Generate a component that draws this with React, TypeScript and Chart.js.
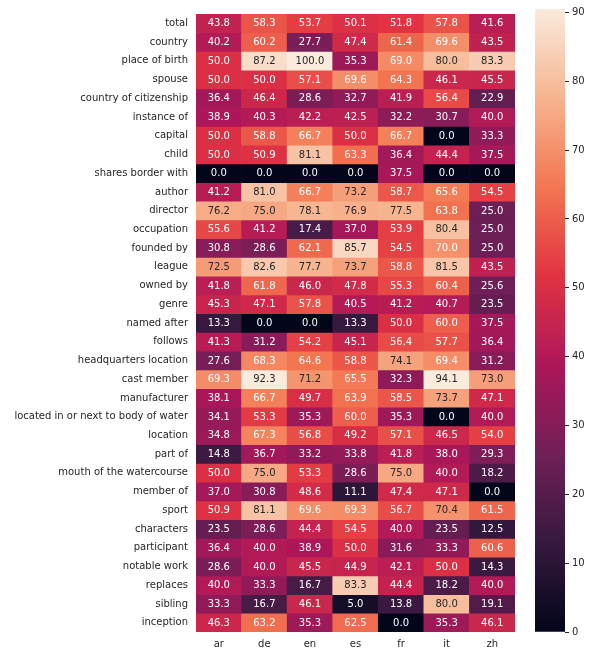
import React, { useEffect, useRef } from "react";
import { Chart, registerables } from "chart.js";

Chart.register(...registerables);

const rows = [
  "total", "country", "place of birth", "spouse", "country of citizenship", "instance of",
  "capital", "child", "shares border with", "author", "director", "occupation", "founded by",
  "league", "owned by", "genre", "named after", "follows", "headquarters location",
  "cast member", "manufacturer", "located in or next to body of water", "location", "part of",
  "mouth of the watercourse", "member of", "sport", "characters", "participant",
  "notable work", "replaces", "sibling", "inception",
];

const languages = ["ar", "de", "en", "es", "fr", "it", "zh"];

const ar = [43.8, 40.2, 50.0, 50.0, 36.4, 38.9, 50.0, 50.0, 0.0, 41.2, 76.2, 55.6, 30.8, 72.5, 41.8, 45.3, 13.3, 41.3, 27.6, 69.3, 38.1, 34.1, 34.8, 14.8, 50.0, 37.0, 50.9, 23.5, 36.4, 28.6, 40.0, 33.3, 46.3];
const de = [58.3, 60.2, 87.2, 50.0, 46.4, 40.3, 58.8, 50.9, 0.0, 81.0, 75.0, 41.2, 28.6, 82.6, 61.8, 47.1, 0.0, 31.2, 68.3, 92.3, 66.7, 53.3, 67.3, 36.7, 75.0, 30.8, 81.1, 28.6, 40.0, 40.0, 33.3, 16.7, 63.2];
const en = [53.7, 27.7, 100.0, 57.1, 28.6, 42.2, 66.7, 81.1, 0.0, 66.7, 78.1, 17.4, 62.1, 77.7, 46.0, 57.8, 0.0, 54.2, 64.6, 71.2, 49.7, 35.3, 56.8, 33.2, 53.3, 48.6, 69.6, 44.4, 38.9, 45.5, 16.7, 46.1, 35.3];
const es = [50.1, 47.4, 35.3, 69.6, 32.7, 42.5, 50.0, 63.3, 0.0, 73.2, 76.9, 37.0, 85.7, 73.7, 47.8, 40.5, 13.3, 45.1, 58.8, 65.5, 63.9, 60.0, 49.2, 33.8, 28.6, 11.1, 69.3, 54.5, 50.0, 44.9, 83.3, 5.0, 62.5];
const fr = [51.8, 61.4, 69.0, 64.3, 41.9, 32.2, 66.7, 36.4, 37.5, 58.7, 77.5, 53.9, 54.5, 58.8, 55.3, 41.2, 50.0, 56.4, 74.1, 32.3, 58.5, 35.3, 57.1, 41.8, 75.0, 47.4, 56.7, 40.0, 31.6, 42.1, 44.4, 13.8, 0.0];
const it = [57.8, 69.6, 80.0, 46.1, 56.4, 30.7, 0.0, 44.4, 0.0, 65.6, 63.8, 80.4, 70.0, 81.5, 60.4, 40.7, 60.0, 57.7, 69.4, 94.1, 73.7, 0.0, 46.5, 38.0, 40.0, 47.1, 70.4, 23.5, 33.3, 50.0, 18.2, 80.0, 35.3];
const zh = [41.6, 43.5, 83.3, 45.5, 22.9, 40.0, 33.3, 37.5, 0.0, 54.5, 25.0, 25.0, 25.0, 43.5, 25.6, 23.5, 37.5, 36.4, 31.2, 73.0, 47.1, 40.0, 54.0, 29.3, 18.2, 0.0, 61.5, 12.5, 60.6, 14.3, 40.0, 19.1, 46.1];

const columns = [ar, de, en, es, fr, it, zh];

const colorbarTicks = [0, 10, 20, 30, 40, 50, 60, 70, 80, 90];

const VMIN = 0;
const VMAX = 90.5;

// approximate seaborn "rocket" colormap
const ROCKET: [number, number[]][] = [
  [0, [3, 5, 26]],
  [1 / 7, [53, 25, 62]],
  [2 / 7, [112, 31, 87]],
  [3 / 7, [173, 23, 89]],
  [4 / 7, [225, 51, 66]],
  [5 / 7, [243, 118, 81]],
  [6 / 7, [246, 180, 143]],
  [1, [250, 235, 221]],
];

function rocketRGB(t: number): number[] {
  const x = Math.max(0, Math.min(1, t));
  for (let i = 1; i < ROCKET.length; i++) {
    const [t1, c1] = ROCKET[i];
    const [t0, c0] = ROCKET[i - 1];
    if (x <= t1) {
      const f = (x - t0) / (t1 - t0);
      return c0.map((v, k) => v + (c1[k] - v) * f);
    }
  }
  return ROCKET[ROCKET.length - 1][1];
}

function colorFor(v: number): string {
  const c = rocketRGB((v - VMIN) / (VMAX - VMIN));
  return `rgb(${Math.round(c[0])},${Math.round(c[1])},${Math.round(c[2])})`;
}

function textColorFor(v: number): string {
  const c = rocketRGB((v - VMIN) / (VMAX - VMIN)).map((x) => {
    const s = x / 255;
    return s <= 0.03928 ? s / 12.92 : Math.pow((s + 0.055) / 1.055, 2.4);
  });
  const lum = 0.2126 * c[0] + 0.7152 * c[1] + 0.0722 * c[2];
  return lum > 0.408 ? "#262626" : "#ffffff";
}

const FONT = "'DejaVu Sans', sans-serif";
const TEXT = "#262626";

export default function App() {
  const mainRef = useRef<HTMLCanvasElement>(null);
  const barRef = useRef<HTMLCanvasElement>(null);

  useEffect(() => {
    const annotate = {
      id: "annotate",
      afterDatasetsDraw(chart: any) {
        const ctx = chart.ctx;
        const xs = chart.scales.x;
        const ys = chart.scales.y;
        ctx.save();
        ctx.font = `10px ${FONT}`;
        ctx.textAlign = "center";
        ctx.textBaseline = "middle";
        rows.forEach((_, r) => {
          columns.forEach((col, c) => {
            const v = col[r];
            ctx.fillStyle = textColorFor(v);
            ctx.fillText(v.toFixed(1), xs.getPixelForValue(c), ys.getPixelForValue(r + 0.5) + 0.5);
          });
        });
        ctx.restore();
      },
    };

    const main = new Chart(mainRef.current!, {
      type: "bar",
      data: {
        labels: languages,
        datasets: rows.map((name, r) => ({
          label: name,
          data: columns.map(() => [r, r + 1]) as any,
          backgroundColor: columns.map((col) => colorFor(col[r])),
          borderWidth: 0,
          barPercentage: 1,
          categoryPercentage: 1,
          grouped: false,
        })),
      },
      options: {
        animation: false,
        responsive: false,
        devicePixelRatio: 1,
        layout: { padding: { top: 8, right: 15, left: 0, bottom: 0 } },
        plugins: { legend: { display: false }, tooltip: { enabled: false } },
        scales: {
          x: {
            grid: { display: false, drawTicks: false },
            border: { display: false },
            ticks: { color: TEXT, font: { family: FONT, size: 10 }, padding: 6 },
            afterFit: (s: any) => { s.height = 19; },
          },
          y: {
            type: "linear",
            reverse: true,
            min: 0,
            max: rows.length,
            grid: { display: false, drawTicks: false },
            border: { display: false },
            afterBuildTicks: (s: any) => {
              s.ticks = rows.map((_, i) => ({ value: i + 0.5 }));
            },
            ticks: {
              autoSkip: false,
              color: TEXT,
              font: { family: FONT, size: 10 },
              padding: 8,
              callback: (v: any) => rows[Math.floor(Number(v))],
            },
            afterFit: (s: any) => { s.width = 196; },
          },
        },
      },
      plugins: [annotate],
    } as any);

    const bar = new Chart(barRef.current!, {
      type: "bar",
      data: {
        labels: ["cbar"],
        datasets: [
          {
            data: [[VMIN, VMAX]] as any,
            borderWidth: 0,
            barPercentage: 1,
            categoryPercentage: 1,
            backgroundColor: (ctx: any) => {
              const area = ctx.chart.chartArea;
              if (!area) return colorFor(45);
              const g = ctx.chart.ctx.createLinearGradient(0, area.bottom, 0, area.top);
              ROCKET.forEach(([t, c]) => g.addColorStop(t, `rgb(${c[0]},${c[1]},${c[2]})`));
              return g;
            },
          },
        ],
      },
      options: {
        animation: false,
        responsive: false,
        devicePixelRatio: 1,
        layout: { padding: { top: 8, right: 0, left: 5, bottom: 19 } },
        plugins: { legend: { display: false }, tooltip: { enabled: false } },
        scales: {
          x: { display: false },
          y: {
            position: "right",
            min: VMIN,
            max: VMAX,
            border: { display: false },
            grid: { drawOnChartArea: false, drawTicks: true, tickLength: 4, color: TEXT },
            afterBuildTicks: (s: any) => {
              s.ticks = colorbarTicks.map((v) => ({ value: v }));
            },
            ticks: {
              color: TEXT,
              font: { family: FONT, size: 10 },
              padding: 3,
            },
            afterFit: (s: any) => { s.width = 29; },
          },
        },
      },
    } as any);

    return () => {
      main.destroy();
      bar.destroy();
    };
  }, []);

  return (
    <div style={{ position: "absolute", left: 0, top: 0, width: 594, height: 651, background: "#fff" }}>
      <canvas ref={mainRef} width={530} height={651} style={{ position: "absolute", left: 0, top: 0, width: 530, height: 651 }} />
      <canvas ref={barRef} width={64} height={651} style={{ position: "absolute", left: 530, top: 0, width: 64, height: 651 }} />
    </div>
  );
}
